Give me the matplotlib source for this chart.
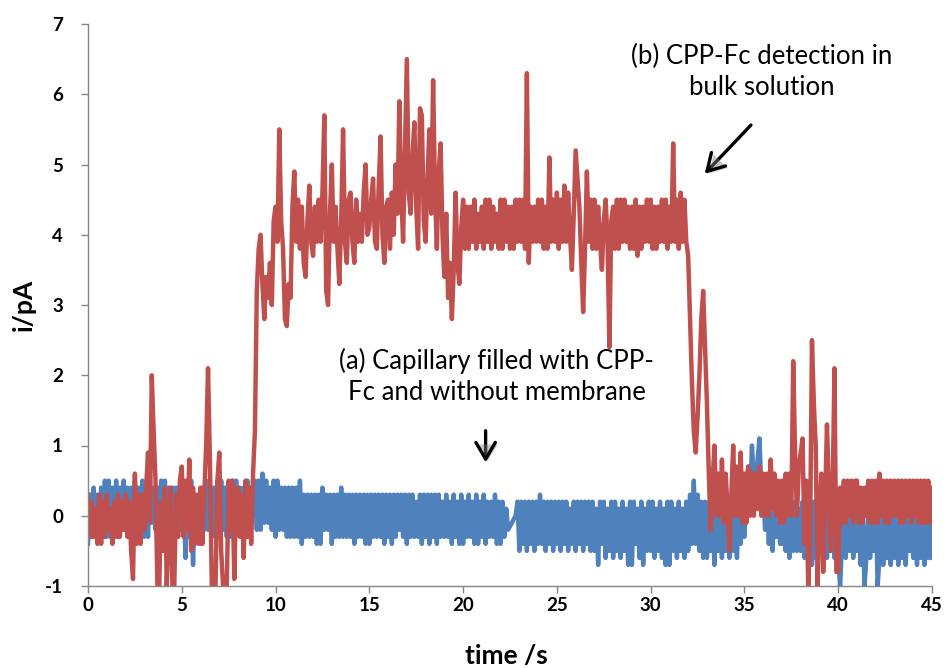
import numpy as np
import matplotlib
matplotlib.use("Agg")
import matplotlib.pyplot as plt
import matplotlib.patheffects as pe

# ---- data: current (pA) sampled every 0.1 s from 0 to 45 s (one row per second) ----
red_current = [
    0.3, -0.3, 0.2, -0.3, 0.1, -0.4, 0.3, -0.4, 0.2, -0.3,
    0.3, -0.2, 0.1, -0.4, 0.2, -0.3, 0.3, -0.3, 0.2, -0.2,
    0.3, -0.3, 0.2, -0.5, -0.9, 0.6, -0.4, 0.3, -0.4, 0.3,
    -0.2, 0.4, 0.9, -0.1, 2.0, 1.2, 0.5, -1.0, -1.0, 0.2,
    -0.5, 0.4, -1.0, -0.2, 0.4, -1.0, -1.0, 0.3, -0.3, 0.5,
    0.7, -0.3, 0.5, -0.2, 0.8, -0.5, 0.4, -0.4, 0.3, -0.4,
    0.4, -0.4, 0.3, 1.0, 2.1, 0.8, -1.0, -1.0, -1.0, 0.5,
    0.9, -0.5, -1.0, -1.0, -1.0, 0.5, -0.2, 0.5, -0.9, 0.3,
    0.4, -0.3, 0.3, -0.6, 0.5, -0.3, 0.4, -0.4, 0.6, 1.2,
    3.2, 3.8, 4.0, 3.3, 2.8, 3.4, 3.1, 3.6, 3.0, 4.2,
    4.4, 3.9, 5.5, 4.2, 3.8, 2.8, 2.7, 3.3, 3.1, 4.4,
    4.9, 3.9, 4.5, 3.8, 4.4, 3.6, 3.4, 4.2, 4.7, 3.9,
    3.7, 4.4, 3.9, 4.5, 3.9, 4.6, 5.7, 3.2, 3.0, 4.3,
    5.0, 3.9, 4.4, 3.8, 3.3, 4.2, 5.5, 3.9, 3.6, 4.5,
    4.6, 3.9, 3.6, 4.5, 3.9, 4.3, 3.9, 4.6, 5.0, 4.0,
    4.1, 4.5, 4.8, 3.9, 3.8, 4.7, 5.4, 4.0, 3.6, 4.4,
    4.5, 3.8, 4.6, 4.0, 5.0, 4.3, 5.9, 4.6, 3.9, 5.2,
    6.5, 4.6, 4.3, 5.1, 5.6, 4.4, 3.8, 5.8, 5.7, 4.2,
    3.9, 4.8, 5.5, 4.3, 6.2, 4.6, 3.8, 4.9, 5.3, 4.0,
    3.4, 4.3, 3.1, 3.6, 2.8, 3.5, 4.6, 3.6, 3.3, 4.1,
    4.5, 3.8, 4.4, 3.8, 4.4, 3.9, 4.5, 3.8, 4.3, 3.9,
    4.4, 3.8, 4.5, 3.9, 4.5, 3.8, 4.4, 3.9, 4.3, 3.8,
    4.5, 3.8, 4.5, 3.9, 4.4, 3.8, 4.4, 3.8, 4.5, 3.9,
    4.5, 3.9, 4.5, 3.8, 6.3, 3.6, 4.4, 3.9, 4.4, 3.9,
    4.5, 3.9, 4.5, 3.8, 4.4, 3.8, 5.1, 3.9, 4.5, 3.9,
    4.6, 3.8, 4.5, 3.9, 4.7, 3.9, 4.6, 4.0, 3.5, 4.3,
    5.2, 4.8, 4.4, 3.6, 2.9, 3.8, 4.9, 3.9, 4.5, 3.8,
    4.5, 3.8, 4.4, 3.9, 3.5, 4.2, 4.5, 3.9, 2.4, 4.2,
    4.4, 3.8, 4.5, 3.8, 4.5, 3.9, 4.5, 3.9, 4.4, 3.8,
    4.4, 3.8, 4.5, 3.7, 4.4, 3.8, 4.4, 3.9, 4.5, 3.9,
    4.5, 3.8, 4.4, 3.8, 4.4, 3.9, 4.5, 3.9, 4.5, 3.8,
    4.4, 3.9, 5.3, 3.9, 4.5, 3.8, 4.6, 3.9, 4.5, 3.9,
    3.7, 2.8, 1.9, 1.2, 0.9, 1.4, 2.0, 2.8, 3.2, 2.4,
    1.6, 0.6, -0.2, 0.5, 1.0, 0.0, 0.6, 0.0, 0.8, -0.1,
    0.6, 0.1, -0.5, 0.3, 1.0, 0.0, 0.7, 0.0, 0.9, -0.1,
    0.6, -0.1, 0.7, 0.0, 0.6, 0.0, 0.6, 0.1, 0.7, 0.0,
    0.6, 0.0, 0.6, 0.0, 0.8, 0.1, 0.6, 0.0, 0.5, -0.1,
    0.5, -0.1, 0.6, 0.0, 0.6, 0.0, 2.2, 0.9, 0.0, 0.7,
    0.9, 1.1, -0.4, 0.5, -1.0, -0.3, 2.5, 1.6, 1.0, -1.0,
    0.0, 0.6, -0.8, 0.2, 1.3, 0.4, -0.5, 0.3, 2.1, -0.8,
    -0.8, 0.4, -0.1, 0.5, -0.1, 0.5, 0.0, 0.5, -0.1, 0.5,
    0.5, -0.1, 0.4, -0.1, 0.4, 0.0, 0.5, -0.1, 0.5, -0.1,
    0.5, -0.1, 0.6, 0.0, 0.5, -0.1, 0.5, -0.1, 0.5, 0.0,
    0.5, 0.0, 0.5, -0.1, 0.5, -0.1, 0.5, 0.0, 0.5, -0.1,
    0.5, 0.0, 0.5, -0.1, 0.5, -0.1, 0.5, -0.1, 0.5, -0.1,
    0.4,
]

blue_current = [
    -0.4, 0.3, -0.3, 0.4, -0.2, 0.3, -0.3, 0.4, -0.2, 0.5,
    -0.3, 0.5, -0.3, 0.4, -0.2, 0.5, -0.3, 0.4, -0.2, 0.5,
    -0.1, 0.4, -0.3, 0.4, -0.3, 0.5, -0.2, 0.4, -0.2, 0.5,
    -0.3, 0.4, -0.3, 0.5, -0.1, 0.4, -0.2, 0.4, -0.3, 0.5,
    -0.3, 0.5, -0.2, 0.4, -0.2, 0.4, -0.3, 0.4, -0.3, 0.3,
    -0.2, 0.3, -0.6, 0.4, -0.3, 0.5, -0.7, 0.3, -0.3, 0.3,
    -0.4, 0.4, -0.2, 0.5, -0.2, 0.4, -0.3, 0.4, -0.3, 0.5,
    -0.2, 0.5, -0.2, 0.4, -0.3, 0.4, -0.3, 0.5, -0.2, 0.5,
    -0.2, 0.4, -0.3, 0.4, -0.3, 0.5, -0.2, 0.4, 0.0, 0.5,
    -0.2, 0.5, -0.2, 0.6, -0.1, 0.5, -0.1, 0.4, -0.2, 0.5,
    -0.3, 0.5, -0.2, 0.4, -0.2, 0.4, -0.3, 0.4, -0.3, 0.4,
    -0.3, 0.4, -0.3, 0.5, -0.4, 0.3, -0.3, 0.3, -0.3, 0.3,
    -0.3, 0.3, -0.4, 0.3, -0.4, 0.4, -0.2, 0.3, -0.2, 0.3,
    -0.4, 0.3, -0.3, 0.3, -0.3, 0.4, -0.3, 0.3, -0.3, 0.3,
    -0.3, 0.3, -0.4, 0.3, -0.3, 0.3, -0.3, 0.3, -0.4, 0.3,
    -0.4, 0.3, -0.3, 0.3, -0.3, 0.3, -0.3, 0.3, -0.4, 0.3,
    -0.3, 0.3, -0.4, 0.3, -0.3, 0.3, -0.2, 0.3, -0.3, 0.3,
    -0.4, 0.3, -0.3, 0.3, -0.3, 0.2, -0.3, 0.3, -0.4, 0.3,
    -0.3, 0.3, -0.4, 0.3, -0.3, 0.3, -0.4, 0.3, -0.3, 0.2,
    -0.3, 0.3, -0.3, 0.2, -0.4, 0.3, -0.3, 0.2, -0.4, 0.3,
    -0.4, 0.2, -0.3, 0.3, -0.3, 0.2, -0.4, 0.3, -0.4, 0.2,
    -0.3, 0.3, -0.4, 0.2, -0.3, 0.2, -0.3, 0.3, -0.4, 0.2,
    -0.4, 0.2, -0.3, 0.1, -0.2, -0.15, -0.1, -0.05, 0.0, 0.2,
    -0.5, 0.2, -0.4, 0.2, -0.5, 0.2, -0.4, 0.2, -0.5, 0.2,
    -0.4, 0.3, -0.4, 0.2, -0.5, 0.2, -0.4, 0.2, -0.5, 0.2,
    -0.4, 0.2, -0.5, 0.2, -0.4, 0.2, -0.5, 0.1, -0.4, 0.2,
    -0.5, 0.2, -0.4, 0.2, -0.5, 0.2, -0.4, 0.2, -0.5, 0.2,
    -0.5, 0.1, -0.7, 0.2, -0.4, 0.2, -0.6, 0.1, -0.5, 0.2,
    -0.6, 0.2, -0.5, 0.1, -0.6, 0.2, -0.5, 0.1, -0.7, 0.2,
    -0.7, 0.2, -0.4, 0.1, -0.6, 0.2, -0.7, 0.1, -0.5, 0.2,
    -0.5, 0.2, -0.6, 0.1, -0.5, 0.2, -0.6, 0.1, -0.7, 0.2,
    -0.7, 0.2, -0.5, 0.1, -0.6, 0.2, -0.5, 0.1, -0.6, 0.2,
    -0.5, 0.3, -0.4, 0.5, -0.4, 0.3, -0.5, 0.2, -0.6, 0.2,
    -0.6, 0.2, -0.5, 0.2, -0.7, 0.1, -0.5, 0.2, -0.6, 0.2,
    -0.5, 0.2, -0.6, 0.1, -0.5, 0.3, -0.6, 0.2, -0.4, 0.3,
    -0.3, 0.4, 0.7, 0.2, 1.0, 0.5, 0.3, 0.8, 1.1, 0.4,
    0.4, -0.2, 0.3, -0.4, 0.3, -0.5, 0.2, -0.3, 0.2, -0.4,
    -0.4, 0.2, -0.5, 0.2, -0.6, 0.1, -0.5, 0.2, -0.5, 0.1,
    -0.5, 0.2, -0.6, 0.1, -0.6, 0.1, -0.7, 0.2, -0.6, 0.2,
    -0.5, 0.1, -0.6, 0.2, -0.6, 0.2, -0.5, 0.1, -0.6, 0.2,
    -0.6, -1.0, -0.4, 0.1, -0.6, 0.2, -0.5, 0.2, -0.6, 0.1,
    -0.5, 0.1, -0.7, 0.1, -1.0, -0.6, 0.1, -0.6, 0.2, -0.5,
    0.2, -1.0, -0.6, 0.1, -0.7, 0.2, -0.6, 0.2, -0.7, 0.2,
    -0.6, 0.1, -0.7, 0.2, -0.6, 0.1, -0.7, 0.2, -0.5, 0.1,
    -0.6, 0.1, -0.7, 0.2, -0.6, 0.1, -0.7, 0.1, -0.6, 0.1,
    -0.6,
]

time_start, time_end = 0, 45
x_ticks = [0, 5, 10, 15, 20, 25, 30, 35, 40, 45]
y_ticks = [-1, 0, 1, 2, 3, 4, 5, 6, 7]

label_a = "(a) Capillary filled with CPP-\nFc and without membrane"
label_b = "(b) CPP-Fc detection in\nbulk solution"

t_red = np.linspace(time_start, time_end, len(red_current))
t_blue = np.linspace(time_start, time_end, len(blue_current))

# ---- figure ----
plt.rcParams['font.family'] = ['Lato', 'DejaVu Sans']
fig = plt.figure(figsize=(9.49, 6.68), dpi=100)
ax = fig.add_axes([88/949, 1-586/668, (932-88)/949, (586-24)/668])

ax.plot(t_blue, blue_current, color='#4F81BD', lw=3.2, solid_joinstyle='round')
ax.plot(t_red, red_current, color='#C0504D', lw=3.2, solid_joinstyle='round')

ax.set_xlim(0, 45)
ax.set_ylim(-1, 7)
ax.set_xticks(x_ticks)
ax.set_yticks(y_ticks)
ax.set_xticklabels([str(v) for v in x_ticks], fontsize=13.5, fontweight='bold')
ax.set_yticklabels([str(v) for v in y_ticks], fontsize=13.5, fontweight='bold')

for s in ['top', 'right']:
    ax.spines[s].set_visible(False)
for s in ['left', 'bottom']:
    ax.spines[s].set_color('#868686')
    ax.spines[s].set_linewidth(1.0)
ax.tick_params(axis='both', colors='#868686', length=5, width=1.0, labelcolor='black')
ax.tick_params(axis='y', pad=13)
ax.tick_params(axis='x', pad=3)

ax.set_xlabel('time /s', fontsize=19, fontweight='bold')
ax.set_ylabel('i/pA', fontsize=19, fontweight='bold')
ax.xaxis.set_label_coords(0.496, -0.103)
ax.yaxis.set_label_coords(-0.062, 0.5)

ax.text(21.8, 1.99, label_a, ha='center', va='center', fontsize=18.5, linespacing=1.3)
ax.text(35.9, 6.32, label_b, ha='center', va='center', fontsize=18.5, linespacing=1.3)

shadow = [pe.SimplePatchShadow(offset=(1.5, -1.5), shadow_rgbFace='gray', alpha=0.45), pe.Normal()]
ax.annotate('', xy=(21.2, 0.72), xytext=(21.2, 1.25),
            arrowprops=dict(arrowstyle='->,head_length=0.6,head_width=0.35', color='black',
                            lw=2.4, mutation_scale=20, path_effects=shadow))
ax.annotate('', xy=(32.78, 4.84), xytext=(35.45, 5.59),
            arrowprops=dict(arrowstyle='->,head_length=0.6,head_width=0.35', color='black',
                            lw=2.4, mutation_scale=20, path_effects=shadow))

fig.savefig('out.png', dpi=100)
